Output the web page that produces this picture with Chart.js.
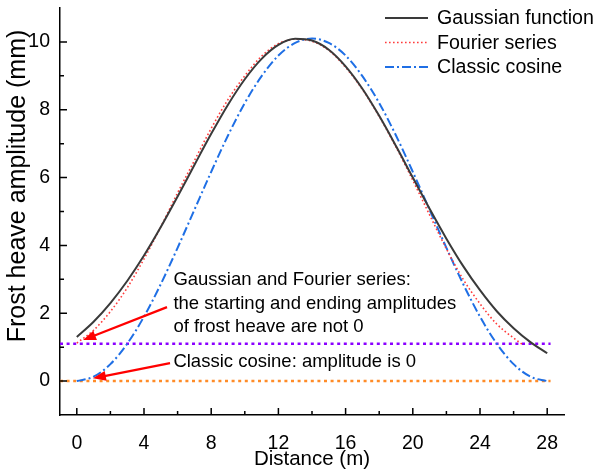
<!DOCTYPE html>
<html>
<head>
<meta charset="utf-8">
<script src="https://cdn.jsdelivr.net/npm/chart.js@4.4.1/dist/chart.umd.min.js"></script>
<style>
  html, body { margin: 0; padding: 0; background: #fff; }
</style>
</head>
<body>
<canvas id="heave" width="600" height="469"></canvas>
<script>
// values
const gaussX = [0,1,2,3,4,5,6,7,8,9,10,11,12,13,14,15,16,17,18,19,20,21,22,23,24,25,26,27,28];
const gaussY = [1.30,1.75,2.30,2.95,3.70,4.54,5.44,6.37,7.29,8.15,8.90,9.50,9.91,10.09,10.04,9.77,9.28,8.62,7.82,6.93,6.00,5.08,4.20,3.39,2.68,2.06,1.56,1.15,0.82];

const fourierX = [0,1,2,3,4,5,6,7,8,9,10,11,12,13,14,15,16,17,18,19,20,21,22,23,24,25,26,26.5];
const fourierY = [1.12,1.50,2.05,2.75,3.60,4.55,5.55,6.50,7.45,8.30,9.00,9.58,9.95,10.08,10.02,9.75,9.25,8.60,7.80,6.90,5.92,4.90,3.90,3.00,2.28,1.68,1.27,1.09];

const cosineX = [0,1,2,3,4,5,6,7,8,9,10,11,12,13,14,15,16,17,18,19,20,21,22,23,24,25,26,27,28];
const cosineY = [0,0.13,0.50,1.10,1.90,2.86,3.93,5.05,6.17,7.24,8.20,8.99,9.60,9.97,10.10,9.97,9.60,8.99,8.20,7.24,6.17,5.05,3.93,2.86,1.90,1.10,0.50,0.13,0];

const refX = [-1, 28.2];
const startLevel = [1.1, 1.1];
const zeroLevel = [0, 0];

const xTicks = [0,4,8,12,16,20,24,28];
const xMinor = [2,6,10,14,18,22,26];
const yTicks = [0,2,4,6,8,10];
const yMinor = [1,3,5,7,9];

const seriesNames = ['Gaussian function', 'Fourier series', 'Classic cosine'];

const FONT = "'Liberation Sans', Arial, sans-serif";
Chart.defaults.font.family = FONT;
Chart.defaults.color = '#000';

function pts(xs, ys) {
  return xs.map((x, i) => ({ x: x, y: ys[i] }));
}

// inward ticks, legend, notes and arrows
const extras = {
  id: 'extras',
  afterDraw(chart) {
    const c = chart.ctx;
    const xs = chart.scales.x, ys = chart.scales.y;
    const area = chart.chartArea;

    c.save();
    c.strokeStyle = '#000';
    c.lineWidth = 1.5;
    c.beginPath();
    xTicks.forEach(v => { const p = xs.getPixelForValue(v); c.moveTo(p, area.bottom); c.lineTo(p, area.bottom - 7); });
    xMinor.forEach(v => { const p = xs.getPixelForValue(v); c.moveTo(p, area.bottom); c.lineTo(p, area.bottom - 4); });
    yTicks.forEach(v => { const p = ys.getPixelForValue(v); c.moveTo(area.left, p); c.lineTo(area.left + 7, p); });
    yMinor.forEach(v => { const p = ys.getPixelForValue(v); c.moveTo(area.left, p); c.lineTo(area.left + 4, p); });
    c.stroke();

    // y title
    c.save();
    c.translate(18, 186);
    c.rotate(-Math.PI / 2);
    c.font = '25px ' + FONT;
    c.textAlign = 'center';
    c.textBaseline = 'middle';
    c.fillStyle = '#000';
    c.fillText('Frost heave amplitude (mm)', 0, 0);
    c.restore();

    // legend
    c.font = '19.6px ' + FONT;
    c.textBaseline = 'middle';
    c.textAlign = 'left';
    seriesNames.forEach((name, i) => {
      const ds = chart.data.datasets[i];
      const y = 18 + i * 24.5;
      c.save();
      c.strokeStyle = ds.borderColor;
      c.lineWidth = ds.borderWidth;
      c.setLineDash(ds.borderDash || []);
      c.beginPath();
      c.moveTo(385, y);
      c.lineTo(428, y);
      c.stroke();
      c.restore();
      c.fillStyle = '#000';
      c.fillText(name, 437, y + 1);
    });

    // notes
    c.font = '18.5px ' + FONT;
    const tx = xs.getPixelForValue(5.75);
    c.fillText('Gaussian and Fourier series:', tx, ys.getPixelForValue(2.98));
    c.fillText('the starting and ending amplitudes', tx, ys.getPixelForValue(2.27));
    c.fillText('of frost heave are not 0', tx, ys.getPixelForValue(1.59));
    c.fillText('Classic cosine: amplitude is 0', tx, ys.getPixelForValue(0.56));

    const arrow = (x0, y0, x1, y1) => {
      const ax = xs.getPixelForValue(x0), ay = ys.getPixelForValue(y0);
      const bx = xs.getPixelForValue(x1), by = ys.getPixelForValue(y1);
      const ang = Math.atan2(by - ay, bx - ax);
      const hl = 13, hw = 5;
      c.strokeStyle = '#ff0000';
      c.fillStyle = '#ff0000';
      c.lineWidth = 2.2;
      c.beginPath();
      c.moveTo(ax, ay);
      c.lineTo(bx - Math.cos(ang) * hl * 0.8, by - Math.sin(ang) * hl * 0.8);
      c.stroke();
      c.beginPath();
      c.moveTo(bx, by);
      c.lineTo(bx - Math.cos(ang) * hl - Math.sin(ang) * hw, by - Math.sin(ang) * hl + Math.cos(ang) * hw);
      c.lineTo(bx - Math.cos(ang) * hl + Math.sin(ang) * hw, by - Math.sin(ang) * hl - Math.cos(ang) * hw);
      c.closePath();
      c.fill();
    };
    arrow(5.37, 2.18, 0.37, 1.21);
    arrow(5.55, 0.53, 0.96, 0.08);
    c.restore();
  }
};

const chart = new Chart(document.getElementById('heave').getContext('2d'), {
  type: 'scatter',
  data: {
    datasets: [
      {
        label: seriesNames[0],
        data: pts(gaussX, gaussY),
        showLine: true,
        borderColor: '#3a3a3a',
        borderWidth: 2,
        pointRadius: 0,
        cubicInterpolationMode: 'monotone'
      },
      {
        label: seriesNames[1],
        data: pts(fourierX, fourierY),
        showLine: true,
        borderColor: '#ff3b3b',
        borderWidth: 1.6,
        borderDash: [1.6, 2.4],
        pointRadius: 0,
        cubicInterpolationMode: 'monotone'
      },
      {
        label: seriesNames[2],
        data: pts(cosineX, cosineY),
        showLine: true,
        borderColor: '#1f6fe5',
        borderWidth: 2,
        borderDash: [9, 3, 2, 3],
        pointRadius: 0,
        cubicInterpolationMode: 'monotone'
      },
      {
        label: 'start level',
        data: pts(refX, startLevel),
        showLine: true,
        borderColor: '#8a00ff',
        borderWidth: 2.5,
        borderDash: [3, 3.6],
        pointRadius: 0
      },
      {
        label: 'zero level',
        data: pts(refX, zeroLevel),
        showLine: true,
        borderColor: '#ff8c28',
        borderWidth: 2.5,
        borderDash: [3, 3.6],
        pointRadius: 0
      }
    ]
  },
  options: {
    responsive: false,
    animation: false,
    layout: { padding: { top: 8, right: 36, left: 0, bottom: 0 } },
    plugins: {
      legend: { display: false },
      tooltip: { enabled: false }
    },
    scales: {
      x: {
        type: 'linear',
        min: -1,
        max: 29,
        afterBuildTicks: s => { s.ticks = xTicks.map(v => ({ value: v })); },
        afterFit: s => { s.height = 54; s.paddingLeft = 0; s.paddingRight = 0; },
        grid: { display: false, drawTicks: false },
        border: { display: true, color: '#000', width: 1.5 },
        ticks: { font: { size: 19.5 }, padding: 17, maxRotation: 0 },
        title: { display: true, text: 'Distance (m)', font: { size: 20.5 }, padding: { top: 0, bottom: -3 } }
      },
      y: {
        type: 'linear',
        min: -1,
        max: 11,
        afterBuildTicks: s => { s.ticks = yTicks.map(v => ({ value: v })); },
        afterFit: s => { s.width = 60; s.paddingTop = 0; s.paddingBottom = 0; },
        grid: { display: false, drawTicks: false },
        border: { display: true, color: '#000', width: 1.5 },
        ticks: { font: { size: 19.5 }, padding: 10 }
      }
    }
  },
  plugins: [extras]
});
</script>
</body>
</html>
